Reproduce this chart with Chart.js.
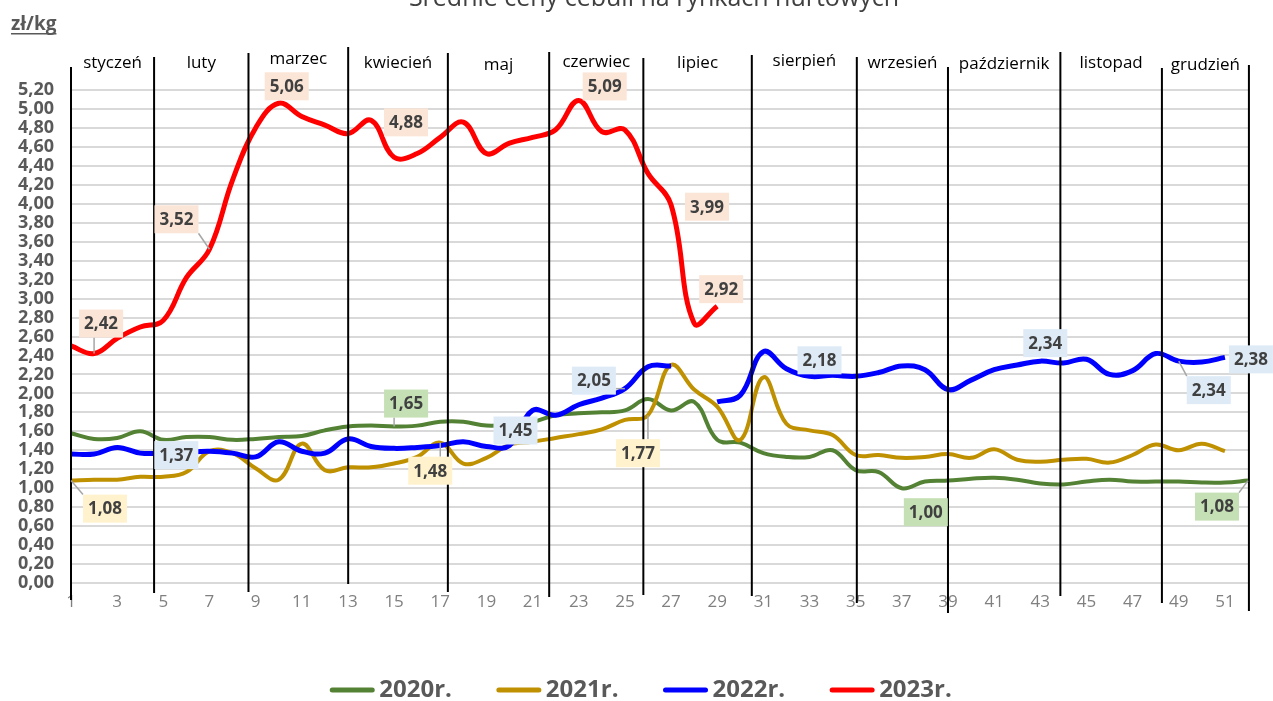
<!DOCTYPE html>
<html>
<head>
<meta charset="utf-8">
<title>Średnie ceny cebuli na rynkach hurtowych</title>
<script src="https://cdn.jsdelivr.net/npm/chart.js@4/dist/chart.umd.min.js"></script>
<style>
  html, body { margin: 0; padding: 0; background: #fff; }
</style>
</head>
<body>
<canvas id="chart" width="1273" height="701"></canvas>
<script>
// tygodnie roku
const weeks = ['1','2','3','4','5','6','7','8','9','10','11','12','13','14','15','16','17','18','19','20',
  '21','22','23','24','25','26','27','28','29','30','31','32','33','34','35','36','37','38','39','40',
  '41','42','43','44','45','46','47','48','49','50','51','52'];

// zł/kg
const prices2020 = [1.58, 1.52, 1.53, 1.60, 1.51, 1.54, 1.54, 1.51, 1.52, 1.54, 1.55, 1.61, 1.65, 1.66, 1.65, 1.66,
  1.70, 1.70, 1.66, 1.67, 1.70, 1.77, 1.79, 1.80, 1.82, 1.94, 1.82, 1.91, 1.51, 1.48, 1.37, 1.33, 1.33, 1.40,
  1.19, 1.17, 1.00, 1.07, 1.08, 1.10, 1.11, 1.09, 1.05, 1.04, 1.07, 1.09, 1.07, 1.07, 1.07, 1.06, 1.06, 1.08];
const prices2021 = [1.08, 1.09, 1.09, 1.12, 1.12, 1.17, 1.39, 1.37, 1.21, 1.09, 1.47, 1.19, 1.22, 1.22, 1.26, 1.33,
  1.48, 1.26, 1.32, 1.46, 1.49, 1.53, 1.57, 1.62, 1.72, 1.77, 2.30, 2.04, 1.86, 1.51, 2.17, 1.68, 1.61, 1.56,
  1.35, 1.35, 1.32, 1.33, 1.36, 1.32, 1.41, 1.30, 1.28, 1.30, 1.31, 1.27, 1.35, 1.46, 1.40, 1.47, 1.39, null];
const prices2022 = [1.36, 1.36, 1.43, 1.37, 1.37, 1.38, 1.39, 1.37, 1.33, 1.49, 1.39, 1.37, 1.52, 1.44, 1.42, 1.43,
  1.45, 1.49, 1.44, 1.45, 1.82, 1.77, 1.88, 1.95, 2.05, 2.28, 2.29, null, 1.91, 1.98, 2.44, 2.26, 2.18, 2.19,
  2.18, 2.22, 2.29, 2.25, 2.04, 2.14, 2.25, 2.30, 2.34, 2.32, 2.36, 2.20, 2.24, 2.42, 2.34, 2.33, 2.38, null];
const prices2023 = [2.50, 2.42, 2.58, 2.70, 2.77, 3.22, 3.52, 4.25, 4.80, 5.06, 4.92, 4.83, 4.74, 4.88, 4.49, 4.53,
  4.70, 4.86, 4.53, 4.64, 4.70, 4.78, 5.09, 4.76, 4.78, 4.32, 3.99, 2.74, 2.92];

const seriesNames = ['2020r.', '2021r.', '2022r.', '2023r.'];
const months = ['styczeń', 'luty', 'marzec', 'kwiecień', 'maj', 'czerwiec', 'lipiec', 'sierpień',
  'wrzesień', 'październik', 'listopad', 'grudzień'];
// granice miesięcy w numerach tygodni
const monthBounds = [1, 4.6, 8.69, 13.01, 17.33, 21.72, 25.8, 30.5, 35.05, 39.0, 43.87, 48.27, 52.04];
// opisane punkty: [seria, tydzień]
const labelSpots = [[3, 2], [3, 7], [3, 10], [3, 14], [3, 23], [3, 27], [3, 29],
  [0, 15], [0, 37], [0, 52],
  [1, 1], [1, 17], [1, 26],
  [2, 5], [2, 20], [2, 25], [2, 33], [2, 43], [2, 49], [2, 51]];

// styl
const colors = ['#548235', '#BF9000', '#0000FF', '#FF0000'];
const labelFills = ['#C5E0B4', '#FFF2CC', '#DEEBF7', '#FBE5D6'];
const widths = [4, 4, 5, 5];
const sepTop = [67, 57, 53, 47, 53, 52, 58, 55, 57, 67, 52, 68, 65];
const sepBottom = [600, 593, 592, 584, 592, 597, 595, 596, 603, 613, 596, 603, 611];
const monthY = [63, 63, 59, 63, 65, 62, 63, 61, 63, 64, 63, 65];
const labelOffsets = [[7, -30], [-33, -30], [8, -17], [35, 2], [26, -14], [36, 2], [4, -17],
  [12, -23], [24, 24], [-31, 26],
  [34, 28], [-10, 28], [-10, 38],
  [13, 2], [6, -15], [-31, -8], [10, -16], [5, -18], [30, 29], [26, 2]];
const labelLeader = [true, true, false, false, false, false, false,
  true, false, true,
  true, true, true,
  false, false, true, false, false, true, false];

const fmt = v => v.toFixed(2).replace('.', ',');

const overlay = {
  id: 'overlay',
  afterDatasetsDraw(chart) {
    const { ctx, scales: { x, y } } = chart;
    ctx.save();

    // tytuł (ucięty u góry)
    ctx.fillStyle = '#404040';
    ctx.font = '25px "Open Sans", sans-serif';
    ctx.textAlign = 'center';
    ctx.textBaseline = 'alphabetic';
    ctx.fillText('Średnie ceny cebuli na rynkach hurtowych', 654, 6);

    // jednostka
    ctx.fillStyle = '#595959';
    ctx.font = 'bold 19px "Open Sans", sans-serif';
    ctx.textAlign = 'left';
    ctx.fillText('zł/kg', 11, 30);
    const uw = ctx.measureText('zł/kg').width;
    ctx.fillRect(11, 33, uw, 1.5);

    // linie miesięcy
    ctx.strokeStyle = '#000';
    ctx.lineWidth = 2;
    const px = monthBounds.map(b => x.getPixelForValue(b - 1));
    px.forEach((p, i) => {
      ctx.beginPath();
      ctx.moveTo(p, sepTop[i]);
      ctx.lineTo(p, sepBottom[i]);
      ctx.stroke();
    });

    // nazwy miesięcy
    ctx.fillStyle = '#000';
    ctx.font = '17px "Open Sans", sans-serif';
    ctx.textAlign = 'center';
    ctx.textBaseline = 'middle';
    months.forEach((m, i) => {
      ctx.fillText(m, (px[i] + px[i + 1]) / 2, monthY[i]);
    });

    // etykiety danych
    ctx.font = 'bold 17px "Open Sans", sans-serif';
    labelSpots.forEach(([ds, wk], i) => {
      const val = chart.data.datasets[ds].data[wk - 1];
      const pxx = x.getPixelForValue(wk - 1);
      const pyy = y.getPixelForValue(val);
      const cx = pxx + labelOffsets[i][0];
      const cy = pyy + labelOffsets[i][1];
      const txt = fmt(val);
      const w = ctx.measureText(txt).width + 10;
      const h = 28;
      const bx = cx - w / 2, by = cy - h / 2;
      if (labelLeader[i]) {
        const ex = Math.min(Math.max(pxx, bx), bx + w);
        const ey = Math.min(Math.max(pyy, by), by + h);
        ctx.strokeStyle = '#A6A6A6';
        ctx.lineWidth = 1.5;
        ctx.beginPath();
        ctx.moveTo(ex, ey);
        ctx.lineTo(pxx, pyy);
        ctx.stroke();
      }
      ctx.fillStyle = labelFills[ds];
      ctx.fillRect(bx, by, w, h);
      ctx.fillStyle = '#404040';
      ctx.fillText(txt, cx, cy + 1);
    });

    // legenda
    ctx.font = 'bold 24px "Open Sans", sans-serif';
    ctx.textAlign = 'left';
    const lineLen = 44, gapTxt = 5, gapItem = 45;
    const items = chart.data.datasets.map(d => ({ d, tw: ctx.measureText(d.label).width }));
    const total = items.reduce((s, it) => s + lineLen + gapTxt + it.tw, 0) + gapItem * (items.length - 1);
    let lx = 641 - total / 2;
    const ly = 690;
    items.forEach(({ d, tw }) => {
      ctx.strokeStyle = d.borderColor;
      ctx.lineWidth = 5;
      ctx.lineCap = 'round';
      ctx.beginPath();
      ctx.moveTo(lx + 2, ly);
      ctx.lineTo(lx + lineLen - 2, ly);
      ctx.stroke();
      ctx.fillStyle = '#595959';
      ctx.fillText(d.label, lx + lineLen + gapTxt, ly);
      lx += lineLen + gapTxt + tw + gapItem;
    });

    ctx.restore();
  }
};

const seriesData = [prices2020, prices2021, prices2022, prices2023];

new Chart(document.getElementById('chart'), {
  type: 'line',
  data: {
    labels: weeks,
    datasets: seriesData.map((vals, i) => ({
      label: seriesNames[i],
      data: vals,
      borderColor: colors[i],
      backgroundColor: colors[i],
      borderWidth: widths[i],
      pointRadius: 0,
      tension: 0.4,
      spanGaps: false,
      order: 4 - i
    }))
  },
  options: {
    responsive: false,
    animation: false,
    layout: { padding: { top: 90, right: 25, bottom: 61, left: 0 } },
    plugins: {
      legend: { display: false },
      title: { display: false },
      tooltip: { enabled: false }
    },
    scales: {
      x: {
        offset: false,
        grid: { display: false, drawTicks: false },
        border: { display: false },
        ticks: {
          autoSkip: false,
          maxRotation: 0,
          padding: 9,
          color: '#808080',
          font: { family: '"Open Sans", sans-serif', size: 17 },
          callback: (v, idx) => (idx % 2 === 0 ? weeks[idx] : '')
        },
        afterFit: s => { s.height = 57; }
      },
      y: {
        min: 0,
        max: 5.2,
        grid: { color: '#D9D9D9', lineWidth: 2, drawTicks: false },
        border: { display: false },
        ticks: {
          stepSize: 0.2,
          autoSkip: false,
          padding: 17,
          color: '#595959',
          font: { family: '"Open Sans", sans-serif', size: 18, weight: 'bold' },
          callback: v => fmt(v)
        },
        afterFit: s => { s.width = 71; }
      }
    }
  },
  plugins: [overlay]
});
</script>
</body>
</html>
